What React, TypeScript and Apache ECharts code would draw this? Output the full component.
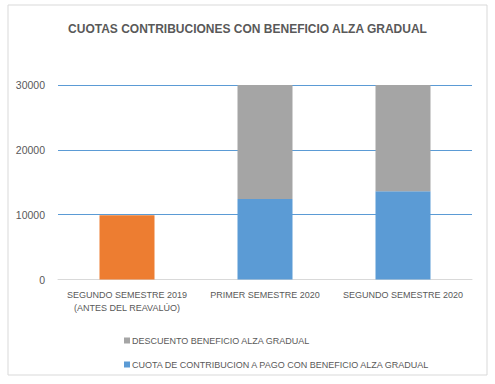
import React, { useEffect, useRef } from "react";
import * as echarts from "echarts";

const categories = ["SEGUNDO SEMESTRE 2019\n(ANTES DEL REAVALÚO)", "PRIMER SEMESTRE 2020", "SEGUNDO SEMESTRE 2020"];
const cuotaValues = [9900, 12400, 13600];
const descuentoValues = [0, 17600, 16400];
const yTicks = [0, 10000, 20000, 30000];
const titleText = "CUOTAS CONTRIBUCIONES CON BENEFICIO ALZA GRADUAL";
const seriesNames = ["DESCUENTO BENEFICIO ALZA GRADUAL", "CUOTA DE CONTRIBUCION A PAGO CON BENEFICIO ALZA GRADUAL"];

export default function App() {
  const ref = useRef<HTMLDivElement>(null);
  useEffect(() => {
    document.body.style.margin = "0";
    const chart = echarts.init(ref.current!, undefined, { renderer: "svg" });
    const font = "'Liberation Sans', Arial, sans-serif";
    chart.setOption({
      animation: false,
      backgroundColor: "#ffffff",
      textStyle: { fontFamily: font },
      title: {
        text: titleText,
        left: "center",
        top: 18,
        textStyle: { fontSize: 12, fontWeight: "bold", color: "#595959", fontFamily: font },
      },
      graphic: [
        {
          type: "rect",
          shape: { x: 8, y: 5, width: 479, height: 370 },
          style: { fill: "none", stroke: "#d9d9d9", lineWidth: 1 },
          silent: true,
          z: -1,
        },
      ],
      legend: {
        orient: "vertical",
        left: 119,
        top: 331,
        itemGap: 15,
        itemWidth: 6,
        itemHeight: 6,
        icon: "rect",
        data: seriesNames,
        textStyle: { fontSize: 9, color: "#595959", fontFamily: font, padding: [0, 0, 0, -3] },
      },
      grid: { left: 58, right: 23, top: 85, bottom: 104.5 },
      xAxis: {
        type: "category",
        data: categories,
        axisLine: { lineStyle: { color: "#d9d9d9" } },
        axisTick: { show: false },
        axisLabel: { fontSize: 9, color: "#595959", margin: 9, lineHeight: 13, interval: 0 },
      },
      yAxis: {
        type: "value",
        min: yTicks[0],
        max: yTicks[yTicks.length - 1],
        interval: 10000,
        axisLine: { show: false },
        axisTick: { show: false },
        splitLine: { lineStyle: { color: "#5b9bd5", width: 1 } },
        axisLabel: { fontSize: 10.5, color: "#595959", margin: 13, formatter: (v: number) => String(v) },
      },
      series: [
        {
          name: seriesNames[1],
          type: "bar",
          stack: "total",
          barWidth: 55,
          itemStyle: { color: "#5b9bd5" },
          data: cuotaValues.map((v, i) => (i === 0 ? { value: v, itemStyle: { color: "#ed7d31" } } : v)),
        },
        {
          name: seriesNames[0],
          type: "bar",
          stack: "total",
          barWidth: 55,
          itemStyle: { color: "#a5a5a5" },
          data: descuentoValues,
        },
      ],
    });
    return () => chart.dispose();
  }, []);
  return <div ref={ref} style={{ width: 495, height: 384 }} />;
}
